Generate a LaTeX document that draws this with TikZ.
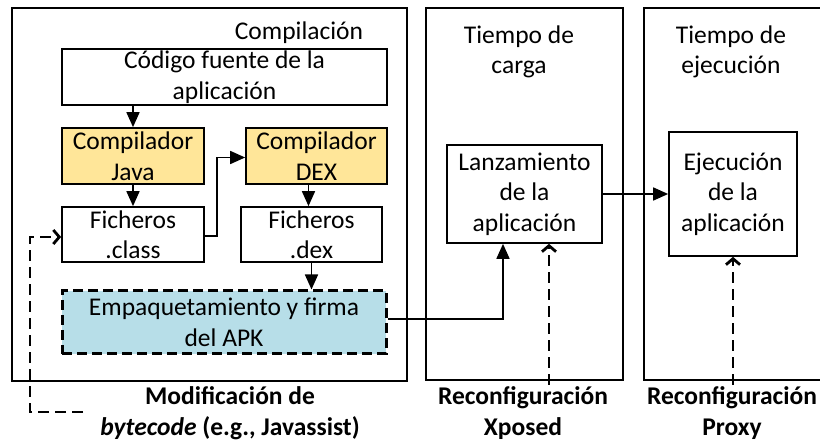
\documentclass[tikz,border=0pt]{standalone}
\usepackage{fontspec}
\setmainfont{Carlito}
\usetikzlibrary{arrows.meta}

\definecolor{compfill}{HTML}{FFE699}
\definecolor{apkfill}{HTML}{B7DEE8}

\tikzset{
	box/.style={shape=rectangle, draw, line width=1.7pt, align=center, inner sep=0pt},
	title/.style={align=center, inner sep=0pt},
	label/.style={align=center, inner sep=0pt, font=\bfseries},
	arr/.style={line width=1.7pt, -{Triangle[length=15pt,width=13pt]}},
	dasharr/.style={line width=2.8pt, dash pattern=on 11pt off 6pt, -{Straight Barb[length=6pt,width=14pt]}}
}

\begin{document}
\begin{tikzpicture}[x=1pt, y=-1pt]
	\fontsize{25.5}{30.5}\selectfont
	\useasboundingbox (0, 0) rectangle (820, 443);
	% Paths, nodes and wires:
	\node[box, minimum width=395pt, minimum height=373pt] (comp) at (209.5, 194.5){};
	\node[box, minimum width=197pt, minimum height=372pt] (carga) at (524.5, 194){};
	\node[box, minimum width=178pt, minimum height=372pt] (runtime) at (733, 194){};
	\node[title] (comptitle) at (299, 33){Compilación};
	\node[title] (cargatitle) at (519, 52){Tiempo de\\carga};
	\node[title] (runtitle) at (731, 52){Tiempo de\\ejecución};
	\node[box, minimum width=325pt, minimum height=56pt] (codigo) at (224.5, 77){Código fuente de la\\aplicación};
	\node[box, fill=compfill, minimum width=142pt, minimum height=56pt] (java) at (133, 156){Compilador\\Java};
	\node[box, fill=compfill, minimum width=141pt, minimum height=56pt] (dex) at (316.5, 156){Compilador\\DEX};
	\node[box, minimum width=142pt, minimum height=55pt] (class) at (133, 234.5){Ficheros\\.class};
	\node[box, minimum width=141pt, minimum height=55pt] (fdex) at (311.5, 234.5){Ficheros\\.dex};
	\node[box, fill=apkfill, line width=3pt, dash pattern=on 10pt off 5pt, minimum width=324pt, minimum height=63pt] (apk) at (224, 322.5){Empaquetamiento y firma\\del APK};
	\node[box, minimum width=155pt, minimum height=98pt] (lanz) at (524.5, 194){Lanzamiento\\de la\\aplicación};
	\node[box, minimum width=128pt, minimum height=124pt] (ejec) at (733, 194){Ejecución\\de la\\aplicación};
	\node[label] (bytecode) at (230, 413){Modificación de\\\textit{bytecode} (e.g., Javassist)};
	\node[label] (xposed) at (523, 413){Reconfiguración\\Xposed};
	\node[label] (proxy) at (732, 413){Reconfiguración\\Proxy};
	\coordinate (bcstart) at (83, 412);
	\coordinate (xpstart) at (549, 385);
	\coordinate (pxstart) at (733, 385);
	\draw[arr] (java.north |- codigo.south) -- (java.north);
	\draw[arr] (java.south) -- (class.north);
	\draw[arr] ([yshift=-1.5pt]class.east) -- ++(12, 0) |- ([yshift=-1.5pt]dex.west);
	\draw[arr] ([xshift=-3pt]fdex.north |- dex.south) -- ([xshift=-3pt]fdex.north);
	\draw[arr] (fdex.south) -- (fdex.south |- apk.north);
	\draw[arr] ([yshift=3.5pt]apk.east) -| ([xshift=-21.5pt]lanz.south);
	\draw[arr] (lanz.east) -- (ejec.west);
	\draw[dasharr] (bcstart) -- ++(-53, 0) |- ([yshift=-2.5pt]class.west);
	\draw[dasharr] (xpstart) -- (xpstart |- lanz.south);
	\draw[dasharr] (pxstart) -- (pxstart |- ejec.south);
\end{tikzpicture}
\end{document}
